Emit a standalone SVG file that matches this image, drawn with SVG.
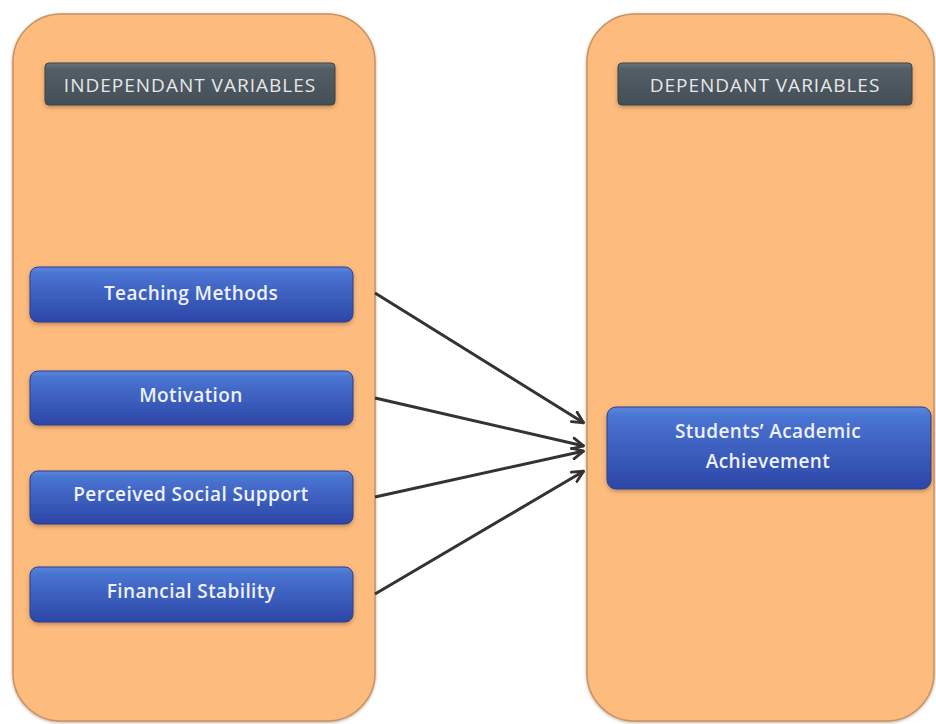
<svg xmlns="http://www.w3.org/2000/svg" width="936" height="724" viewBox="0 0 936 724">
  <defs>
    <linearGradient id="blueFill" x1="0" y1="0" x2="0" y2="1">
      <stop offset="0" stop-color="#5b86de"/>
      <stop offset="0.12" stop-color="#4a74d2"/>
      <stop offset="1" stop-color="#2c46a6"/>
    </linearGradient>
    <linearGradient id="headFill" x1="0" y1="0" x2="0" y2="1">
      <stop offset="0" stop-color="#6a757d"/>
      <stop offset="0.15" stop-color="#535e66"/>
      <stop offset="1" stop-color="#444e56"/>
    </linearGradient>
    <filter id="shadow" x="-10%" y="-10%" width="120%" height="130%">
      <feDropShadow dx="0" dy="2" stdDeviation="2" flood-color="#6b4a2a" flood-opacity="0.45"/>
    </filter>
    <filter id="panelShadow" x="-5%" y="-5%" width="110%" height="110%">
      <feDropShadow dx="0" dy="1" stdDeviation="1.5" flood-color="#7a5a3a" flood-opacity="0.5"/>
    </filter>
    <marker id="chevron" viewBox="0 0 14 14" refX="13" refY="7" markerWidth="14" markerHeight="14" markerUnits="userSpaceOnUse" orient="auto">
      <path d="M1.5,1.5 L12.5,7 L1.5,12.5" fill="none" stroke="#333333" stroke-width="2.8" stroke-linecap="round" stroke-linejoin="round"/>
    </marker>
    <style>
      .panel { fill: #fdbb7e; stroke: #c9935f; stroke-width: 1.5; filter: url(#panelShadow); }
      .head { fill: url(#headFill); stroke: #3c444b; stroke-width: 1; filter: url(#shadow); }
      .headText { font-family: "Open Sans", "Liberation Sans", sans-serif; font-size: 19px; letter-spacing: 1px; fill: #e6e8ea; text-anchor: middle; }
      .box { fill: url(#blueFill); stroke: #2a3f8f; stroke-width: 1; filter: url(#shadow); }
      .boxText { font-family: "Open Sans", "Liberation Sans", sans-serif; font-size: 19px; font-weight: 600; letter-spacing: 0.4px; fill: #eef1fb; text-anchor: middle; }
      .link { stroke: #333333; stroke-width: 3; fill: none; marker-end: url(#chevron); }
    </style>
  </defs>

  <rect width="936" height="724" fill="#ffffff"/>

  <!-- independent variables column -->
  <g id="independent-panel">
    <rect class="panel" x="13" y="14" width="362" height="707" rx="48" ry="48"/>
  </g>
  <g id="independent-header">
    <rect class="head" x="45" y="63" width="290" height="42" rx="4"/>
    <text class="headText" x="190" y="92">INDEPENDANT VARIABLES</text>
  </g>

  <!-- dependent variables column -->
  <g id="dependent-panel">
    <rect class="panel" x="587" y="14" width="347" height="707" rx="48" ry="48"/>
  </g>
  <g id="dependent-header">
    <rect class="head" x="618" y="63" width="294" height="42" rx="4"/>
    <text class="headText" x="765" y="92">DEPENDANT VARIABLES</text>
  </g>

  <!-- independent variable nodes -->
  <g id="teaching-methods">
    <rect class="box" x="30" y="267" width="323" height="55" rx="8"/>
    <text class="boxText" x="191" y="300">Teaching Methods</text>
  </g>
  <g id="motivation">
    <rect class="box" x="30" y="371" width="323" height="54" rx="8"/>
    <text class="boxText" x="191" y="402">Motivation</text>
  </g>
  <g id="perceived-social-support">
    <rect class="box" x="30" y="471" width="323" height="53" rx="8"/>
    <text class="boxText" x="191" y="501">Perceived Social Support</text>
  </g>
  <g id="financial-stability">
    <rect class="box" x="30" y="567" width="323" height="55" rx="8"/>
    <text class="boxText" x="191" y="598">Financial Stability</text>
  </g>

  <!-- dependent variable node -->
  <g id="academic-achievement">
    <rect class="box" x="607" y="407" width="324" height="82" rx="9"/>
    <text class="boxText" x="768" y="438">Students’ Academic</text>
    <text class="boxText" x="768" y="468">Achievement</text>
  </g>

  <!-- connectors -->
  <g id="connectors">
    <line class="link" x1="375" y1="293" x2="584" y2="423"/>
    <line class="link" x1="375" y1="398" x2="584" y2="446"/>
    <line class="link" x1="375" y1="497" x2="584" y2="451"/>
    <line class="link" x1="375" y1="594" x2="584" y2="471"/>
  </g>
</svg>
